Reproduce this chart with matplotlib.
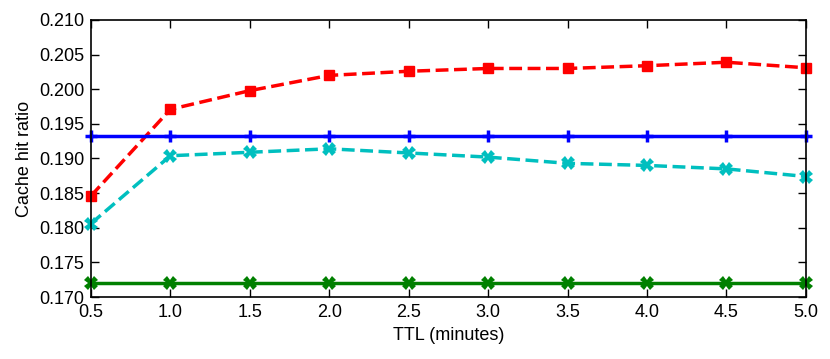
import matplotlib
matplotlib.use("Agg")
import matplotlib.pyplot as plt

# TTL en minutes
ttl = [0.5, 1.0, 1.5, 2.0, 2.5, 3.0, 3.5, 4.0, 4.5, 5.0]

# taux de cache hit par stratégie
red_vals = [0.1846, 0.1971, 0.1998, 0.2020, 0.2026, 0.2030, 0.2030, 0.2034, 0.2039, 0.2031]
blue_vals = [0.1933] * 10
cyan_vals = [0.1806, 0.1904, 0.1909, 0.1914, 0.1908, 0.1902, 0.1893, 0.1890, 0.1885, 0.1874]
green_vals = [0.1720] * 10

yticks = [0.170, 0.175, 0.180, 0.185, 0.190, 0.195, 0.200, 0.205, 0.210]

plt.rcParams['font.family'] = ['Liberation Sans', 'DejaVu Sans']
plt.rcParams['font.size'] = 13

fig = plt.figure(figsize=(8.3, 3.59), dpi=100)
ax = fig.add_axes([0.1096, 0.1727, 0.8614, 0.7716])

ax.plot(ttl, red_vals, color='red', mec='red', linestyle='--', linewidth=2.5,
        marker='s', markersize=7, markeredgewidth=1, clip_on=False)
ax.plot(ttl, blue_vals, color='blue', mec='blue', linestyle='-', linewidth=2.5,
        marker='+', markersize=9, markeredgewidth=2.5, clip_on=False)
ax.plot(ttl, cyan_vals, color='c', mec='c', linestyle='--', linewidth=2.5,
        marker='X', markersize=10, markeredgewidth=0, clip_on=False)
ax.plot(ttl, green_vals, color='green', mec='green', linestyle='-', linewidth=2.5,
        marker='X', markersize=10, markeredgewidth=0, clip_on=False)

ax.set_xlim(0.5, 5.0)
ax.set_ylim(0.170, 0.210)
ax.set_xticks(ttl)
ax.set_xticklabels([f"{v:.1f}" for v in ttl])
ax.set_yticks(yticks)
ax.set_yticklabels([f"{v:.3f}" for v in yticks])
ax.tick_params(direction='in', top=True, right=True, length=6, width=1, pad=5)
for s in ax.spines.values():
    s.set_linewidth(1.2)

ax.set_xlabel('TTL (minutes)')
ax.set_ylabel('Cache hit ratio')

fig.savefig('out.png', dpi=100)
